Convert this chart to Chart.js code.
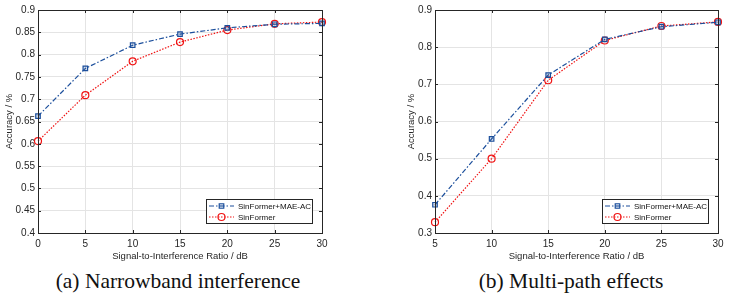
<!DOCTYPE html>
<html>
<head>
<meta charset="utf-8">
<script src="https://cdn.jsdelivr.net/npm/chart.js@4/dist/chart.umd.min.js"></script>
<style>
body { margin:0; background:#fff; width:729px; height:299px; overflow:hidden; position:relative; }
.panel { position:absolute; top:0; width:364px; height:299px; }
.panel canvas { position:absolute; left:0; top:0; }
.cap { position:absolute; top:270px; line-height:22px; font-family:"Liberation Serif", serif; font-size:21.5px; color:#111; white-space:nowrap; transform:translateX(-50%); }
</style>
</head>
<body>
<div class="panel" style="left:0">
  <canvas id="chartA" width="364" height="262"></canvas>
  <div class="cap" style="left:178px">(a) Narrowband interference</div>
</div>
<div class="panel" style="left:365px">
  <canvas id="chartB" width="364" height="262"></canvas>
  <div class="cap" style="left:206px">(b) Multi-path effects</div>
</div>
<script>
// (a) narrowband interference
const snrA = [0, 5, 10, 15, 20, 25, 30];
const maeA = [0.662, 0.769, 0.821, 0.846, 0.860, 0.868, 0.870];
const baseA = [0.606, 0.709, 0.785, 0.828, 0.855, 0.869, 0.873];
const yTicksA = [0.4, 0.45, 0.5, 0.55, 0.6, 0.65, 0.7, 0.75, 0.8, 0.85, 0.9];

// (b) multi-path effects
const snrB = [5, 10, 15, 20, 25, 30];
const maeB = [0.376, 0.553, 0.725, 0.821, 0.855, 0.867];
const baseB = [0.329, 0.500, 0.711, 0.818, 0.857, 0.868];
const yTicksB = [0.3, 0.4, 0.5, 0.6, 0.7, 0.8, 0.9];

const seriesNames = ['SinFormer+MAE-AC', 'SinFormer'];
const xTitle = 'Signal-to-Interference Ratio / dB';
const yTitle = 'Accuracy / %';

const blue = '#1c4f9c';
const red = '#f01414';
const axisCol = '#262626';
const tickFont = { family: 'Liberation Sans, Arial, sans-serif', size: 10 };
const titleFont = { family: 'Liberation Sans, Arial, sans-serif', size: 9.5 };

// box round the axes plus small inward tick marks, matlab style
const frame = {
  id: 'frame',
  afterDraw(chart) {
    const { ctx, chartArea: a, scales } = chart;
    ctx.save();
    ctx.strokeStyle = axisCol;
    ctx.lineWidth = 1;
    ctx.strokeRect(Math.round(a.left) + 0.5, Math.round(a.top) + 0.5, Math.round(a.right - a.left), Math.round(a.bottom - a.top));
    ctx.beginPath();
    scales.x.ticks.forEach(t => {
      const px = Math.round(scales.x.getPixelForValue(t.value)) + 0.5;
      ctx.moveTo(px, a.bottom); ctx.lineTo(px, a.bottom - 3);
      ctx.moveTo(px, a.top); ctx.lineTo(px, a.top + 3);
    });
    scales.y.ticks.forEach(t => {
      const py = Math.round(scales.y.getPixelForValue(t.value)) + 0.5;
      ctx.moveTo(a.left, py); ctx.lineTo(a.left + 3, py);
      ctx.moveTo(a.right, py); ctx.lineTo(a.right - 3, py);
    });
    ctx.stroke();
    ctx.restore();
  }
};

// legend drawn inside the plot, bottom right
const boxLegend = {
  id: 'boxLegend',
  afterDraw(chart) {
    const { ctx, chartArea: a } = chart;
    const w = 106, h = 24;
    const x = Math.round(a.right - 10 - w), y = Math.round(a.bottom - 10 - h);
    ctx.save();
    ctx.fillStyle = '#fff';
    ctx.fillRect(x, y, w, h);
    ctx.strokeStyle = axisCol;
    ctx.lineWidth = 1;
    ctx.strokeRect(x + 0.5, y + 0.5, w, h);
    chart.data.datasets.forEach((ds, i) => {
      const ly = y + 7 + i * 11;
      ctx.strokeStyle = ds.borderColor;
      ctx.lineWidth = ds.borderWidth;
      ctx.setLineDash(ds.borderDash);
      ctx.beginPath();
      ctx.moveTo(x + 3, ly);
      ctx.lineTo(x + 28, ly);
      ctx.stroke();
      ctx.setLineDash([]);
      ctx.strokeStyle = ds.pointBorderColor;
      ctx.fillStyle = ds.pointBackgroundColor;
      ctx.lineWidth = ds.pointBorderWidth;
      Chart.helpers.drawPoint(ctx, { pointStyle: ds.pointStyle, radius: ds.pointRadius, borderWidth: ds.pointBorderWidth, rotation: 0 }, x + 15.5, ly);
      ctx.fillStyle = '#111';
      ctx.font = '8px "Liberation Sans", Arial, sans-serif';
      ctx.textBaseline = 'middle';
      ctx.fillText(ds.label, x + 32, ly + 0.5);
    });
    ctx.restore();
  }
};

function makeChart(id, xs, s1, s2, xMin, yTicks, padLeft, yWidth, padRight) {
  const xTicks = xs;
  new Chart(document.getElementById(id), {
    type: 'line',
    data: {
      datasets: [
        {
          label: seriesNames[0],
          data: xs.map((x, i) => ({ x: x, y: s1[i] })),
          borderColor: blue, borderWidth: 1.2, borderDash: [5, 2, 1.5, 2],
          pointStyle: 'rect', pointRadius: 3.2, pointBorderWidth: 1.2,
          pointBorderColor: blue, pointBackgroundColor: 'rgba(28,79,156,0.2)',
          clip: false
        },
        {
          label: seriesNames[1],
          data: xs.map((x, i) => ({ x: x, y: s2[i] })),
          borderColor: red, borderWidth: 1.2, borderDash: [1.5, 1.5],
          pointStyle: 'circle', pointRadius: 3.5, pointBorderWidth: 1.2,
          pointBorderColor: red, pointBackgroundColor: 'rgba(0,0,0,0)',
          clip: false
        }
      ]
    },
    options: {
      responsive: false,
      animation: false,
      layout: { padding: { left: padLeft, right: padRight, top: 10, bottom: 0 } },
      plugins: { legend: { display: false }, tooltip: { enabled: false } },
      scales: {
        x: {
          type: 'linear', min: xMin, max: 30,
          afterBuildTicks: s => { s.ticks = xTicks.map(v => ({ value: v })); },
          afterFit: s => { s.height = 29; },
          grid: { color: '#e4e4e4', drawTicks: false },
          border: { display: false },
          ticks: { padding: 5, color: axisCol, font: tickFont, maxRotation: 0 },
          title: { display: true, text: xTitle, padding: 0, color: axisCol, font: titleFont }
        },
        y: {
          min: yTicks[0], max: yTicks[yTicks.length - 1],
          afterBuildTicks: s => { s.ticks = yTicks.map(v => ({ value: v })); },
          afterFit: s => { s.width = yWidth; },
          grid: { color: '#e4e4e4', drawTicks: false },
          border: { display: false },
          ticks: { padding: 3, color: axisCol, font: tickFont, callback: v => String(+v.toFixed(2)) },
          title: { display: true, text: yTitle, padding: 0, color: axisCol, font: titleFont }
        }
      }
    },
    plugins: [frame, boxLegend]
  });
}

makeChart('chartA', snrA, maeA, baseA, 0, yTicksA, 4, 34, 42);
makeChart('chartB', snrB, maeB, baseB, 5, yTicksB, 41, 29, 11);
</script>
</body>
</html>
